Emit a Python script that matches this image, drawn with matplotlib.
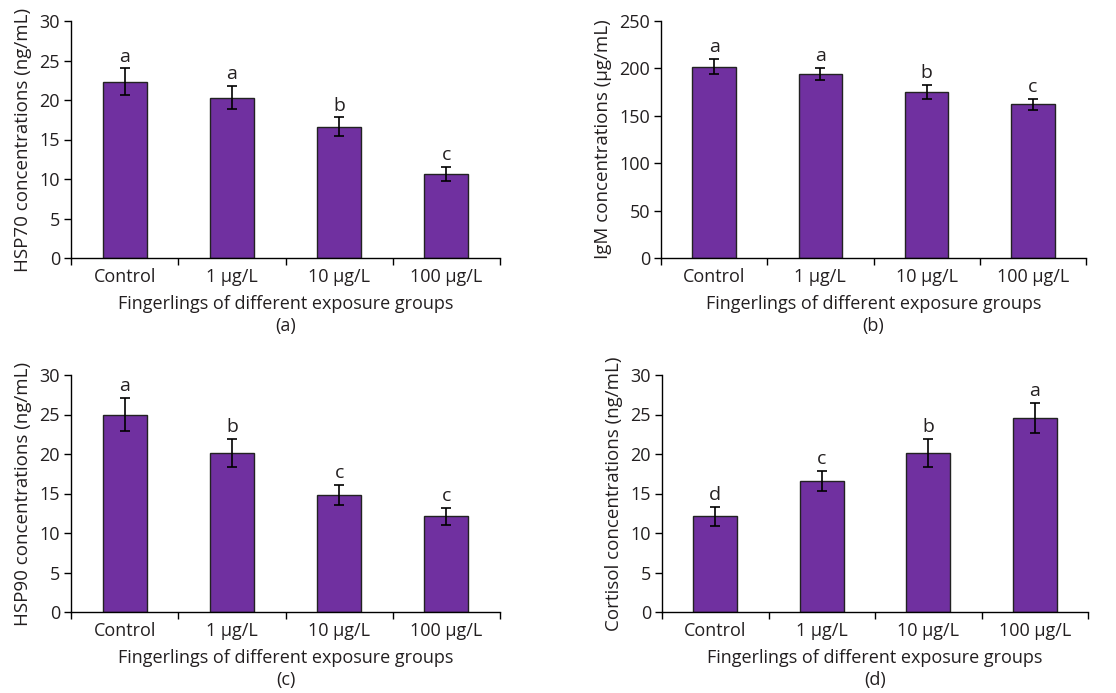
import matplotlib
matplotlib.use("Agg")
import matplotlib.pyplot as plt
import numpy as np

groups = ["Control", "1 μg/L", "10 μg/L", "100 μg/L"]

hsp70 = [22.3, 20.3, 16.6, 10.6]
hsp70_err = [1.7, 1.5, 1.2, 0.9]
hsp70_sig = ["a", "a", "b", "c"]

igm = [202, 194, 175, 162]
igm_err = [8, 6.5, 7.5, 5.5]
igm_sig = ["a", "a", "b", "c"]

hsp90 = [25.0, 20.1, 14.8, 12.1]
hsp90_err = [2.1, 1.8, 1.3, 1.1]
hsp90_sig = ["a", "b", "c", "c"]

cortisol = [12.1, 16.6, 20.1, 24.6]
cortisol_err = [1.2, 1.25, 1.8, 1.9]
cortisol_sig = ["d", "c", "b", "a"]

panels = [
    dict(vals=hsp70, err=hsp70_err, sig=hsp70_sig, ylabel="HSP70 concentrations (ng/mL)",
         ymax=30, step=5, tag="(a)", rect=[71, 21, 500, 258]),
    dict(vals=igm, err=igm_err, sig=igm_sig, ylabel="IgM concentrations (μg/mL)",
         ymax=250, step=50, tag="(b)", rect=[661, 21, 1086, 258]),
    dict(vals=hsp90, err=hsp90_err, sig=hsp90_sig, ylabel="HSP90 concentrations (ng/mL)",
         ymax=30, step=5, tag="(c)", rect=[71, 375, 500, 612]),
    dict(vals=cortisol, err=cortisol_err, sig=cortisol_sig, ylabel="Cortisol concentrations (ng/mL)",
         ymax=30, step=5, tag="(d)", rect=[662, 375, 1088, 612]),
]

plt.rcParams['font.family'] = ['Open Sans', 'DejaVu Sans']
W, H = 1116, 693
fig = plt.figure(figsize=(W / 100, H / 100), dpi=100)
txt = "#231f20"
bar_color = "#7030A0"

for p in panels:
    l, t, r, b = p["rect"]
    ax = fig.add_axes([l / W, 1 - b / H, (r - l) / W, (b - t) / H])
    x = np.arange(len(groups)) + 0.5
    ax.bar(x, p["vals"], width=0.41, color=bar_color, edgecolor="#222222", linewidth=1.0, zorder=2)
    ax.errorbar(x, p["vals"], yerr=p["err"], fmt="none", ecolor="black", elinewidth=1.2,
                capsize=3.5, capthick=1.2, zorder=3)
    for xi, v, e, s in zip(x, p["vals"], p["err"], p["sig"]):
        ax.annotate(s, (xi, v + e), xytext=(0, 2), textcoords="offset points",
                    ha="center", va="bottom", fontsize=14, color=txt)
    ax.set_xlim(0, 4)
    ax.set_ylim(0, p["ymax"])
    ax.set_yticks(np.arange(0, p["ymax"] + 0.1, p["step"]))
    ax.set_xticks([0, 1, 2, 3, 4])
    ax.set_xticklabels([])
    ax.set_xticks(x, minor=True)
    ax.set_xticklabels(groups, minor=True)
    ax.tick_params(axis="x", which="major", length=5, direction="out", width=1)
    ax.tick_params(axis="x", which="minor", length=0, pad=7, labelsize=13, labelcolor=txt)
    ax.tick_params(axis="y", length=5, direction="out", width=1, labelsize=13, labelcolor=txt, pad=3)
    for sp in ["top", "right"]:
        ax.spines[sp].set_visible(False)
    for sp in ["left", "bottom"]:
        ax.spines[sp].set_linewidth(1.0)
    ax.set_ylabel(p["ylabel"], fontsize=13.5, color=txt, labelpad=5)
    ax.set_xlabel("Fingerlings of different exposure groups", fontsize=13, color=txt, labelpad=7)
    ax.text(0.5, -0.285, p["tag"], transform=ax.transAxes, ha="center", va="center",
            fontsize=13, color=txt)

fig.savefig("out.png", dpi=100)
